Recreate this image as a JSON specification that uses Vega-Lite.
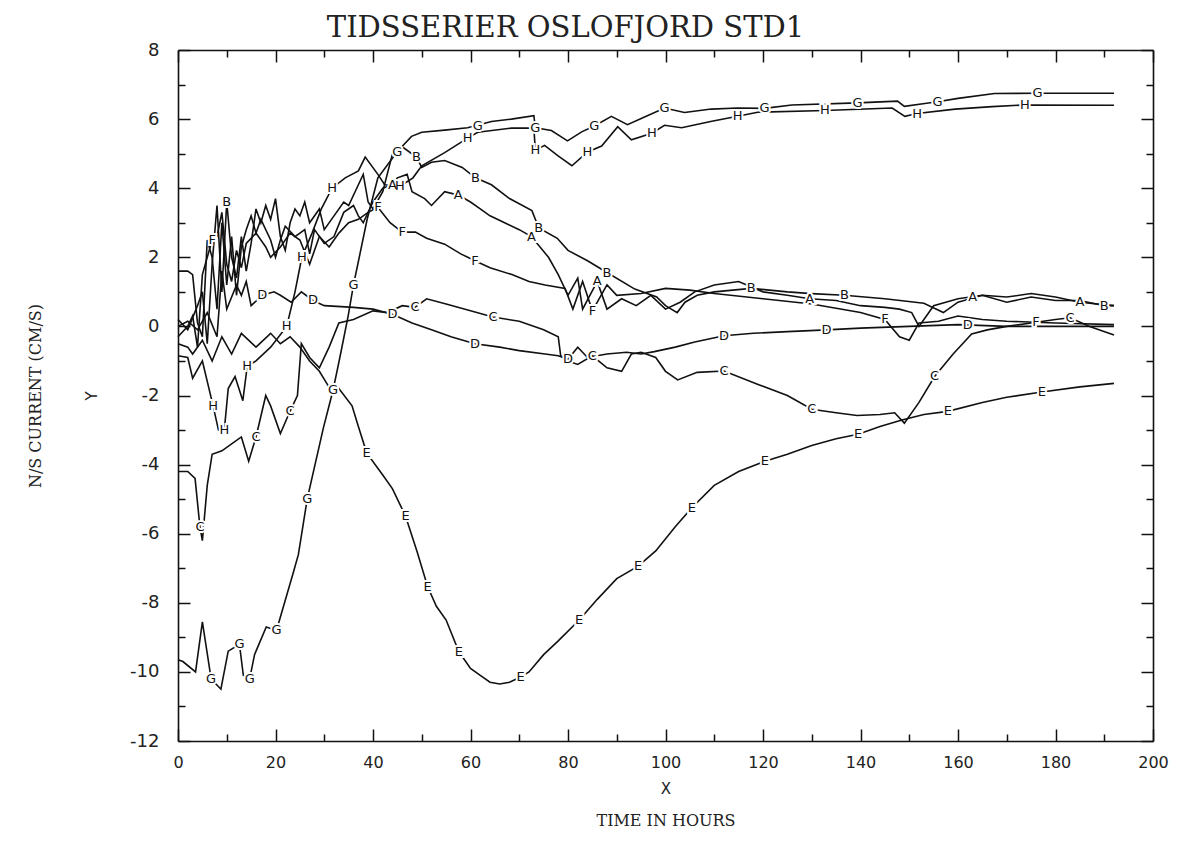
{
"$schema": "https://vega.github.io/schema/vega-lite/v6.json",
"width": 975,
"height": 691,
"autosize": {"type": "none"},
"padding": {"left": 178, "top": 50, "right": 32, "bottom": 112},
"background": "white",
"config": {"view": {"stroke": null}},
"title": {"text": "TIDSSERIER OSLOFJORD STD1", "font": "DejaVu Serif", "fontSize": 29, "fontWeight": "normal", "color": "#222", "dx": -100, "offset": -2},
"datasets": {
"series": [
{"s":"A","t":0,"v":1.6},{"s":"A","t":2,"v":1.6},{"s":"A","t":3,"v":1.5},{"s":"A","t":4,"v":0.1},{"s":"A","t":5,"v":-0.3},{"s":"A","t":6,"v":2.5},{"s":"A","t":7,"v":2.0},{"s":"A","t":8,"v":0.5},{"s":"A","t":9,"v":3.0},{"s":"A","t":10,"v":1.2},{"s":"A","t":11,"v":2.6},{"s":"A","t":12,"v":0.9},{"s":"A","t":13,"v":2.3},{"s":"A","t":14,"v":2.8},{"s":"A","t":15,"v":3.2},{"s":"A","t":16,"v":2.7},{"s":"A","t":17,"v":3.1},{"s":"A","t":19,"v":2.5},{"s":"A","t":20,"v":2.0},{"s":"A","t":21,"v":2.5},{"s":"A","t":22,"v":2.9},{"s":"A","t":24,"v":2.6},{"s":"A","t":26,"v":2.8},{"s":"A","t":27,"v":2.1},{"s":"A","t":28,"v":2.8},{"s":"A","t":30,"v":2.4},{"s":"A","t":32,"v":2.6},{"s":"A","t":34,"v":3.3},{"s":"A","t":36,"v":3.5},{"s":"A","t":37,"v":3.2},{"s":"A","t":38,"v":3.0},{"s":"A","t":40,"v":3.6},{"s":"A","t":42,"v":4.0},{"s":"A","t":44,"v":4.1},{"s":"A","t":45,"v":4.3},{"s":"A","t":47,"v":4.4},{"s":"A","t":48,"v":3.9},{"s":"A","t":50.6,"v":3.7},{"s":"A","t":52,"v":3.5},{"s":"A","t":54.7,"v":3.9},{"s":"A","t":57.5,"v":3.8},{"s":"A","t":60,"v":3.6},{"s":"A","t":62,"v":3.4},{"s":"A","t":64,"v":3.2},{"s":"A","t":67,"v":3.0},{"s":"A","t":70,"v":2.8},{"s":"A","t":72.5,"v":2.6},{"s":"A","t":76,"v":2.0},{"s":"A","t":78,"v":1.5},{"s":"A","t":80,"v":0.9},{"s":"A","t":82,"v":1.4},{"s":"A","t":83,"v":0.5},{"s":"A","t":86,"v":1.3},{"s":"A","t":88,"v":0.5},{"s":"A","t":91,"v":0.8},{"s":"A","t":94,"v":0.6},{"s":"A","t":97,"v":0.9},{"s":"A","t":100,"v":0.5},{"s":"A","t":103,"v":0.7},{"s":"A","t":106,"v":1.0},{"s":"A","t":110,"v":1.2},{"s":"A","t":115,"v":1.3},{"s":"A","t":120,"v":1.0},{"s":"A","t":125,"v":0.9},{"s":"A","t":129.6,"v":0.8},{"s":"A","t":135,"v":0.75},{"s":"A","t":140,"v":0.6},{"s":"A","t":145,"v":0.55},{"s":"A","t":148,"v":0.5},{"s":"A","t":150.5,"v":0.4},{"s":"A","t":152,"v":0.0},{"s":"A","t":155,"v":0.6},{"s":"A","t":160,"v":0.8},{"s":"A","t":165,"v":0.9},{"s":"A","t":170,"v":0.85},{"s":"A","t":175,"v":0.95},{"s":"A","t":180,"v":0.85},{"s":"A","t":185,"v":0.7},{"s":"A","t":192,"v":0.6},
{"s":"B","t":0,"v":0.2},{"s":"B","t":2,"v":-0.1},{"s":"B","t":4,"v":0.6},{"s":"B","t":5,"v":1.0},{"s":"B","t":6,"v":-0.5},{"s":"B","t":7,"v":1.8},{"s":"B","t":8,"v":3.5},{"s":"B","t":9,"v":1.0},{"s":"B","t":10,"v":3.6},{"s":"B","t":11,"v":2.0},{"s":"B","t":12,"v":1.4},{"s":"B","t":13,"v":2.6},{"s":"B","t":14,"v":1.6},{"s":"B","t":15,"v":2.4},{"s":"B","t":16,"v":3.4},{"s":"B","t":17,"v":3.0},{"s":"B","t":18,"v":3.5},{"s":"B","t":19,"v":3.1},{"s":"B","t":20,"v":3.7},{"s":"B","t":21,"v":2.6},{"s":"B","t":22,"v":2.2},{"s":"B","t":23,"v":3.0},{"s":"B","t":24,"v":3.4},{"s":"B","t":25,"v":3.2},{"s":"B","t":26,"v":3.6},{"s":"B","t":27,"v":3.0},{"s":"B","t":29,"v":3.4},{"s":"B","t":30,"v":2.8},{"s":"B","t":32,"v":3.2},{"s":"B","t":34,"v":3.6},{"s":"B","t":35,"v":3.5},{"s":"B","t":37,"v":4.1},{"s":"B","t":38,"v":4.4},{"s":"B","t":39,"v":3.6},{"s":"B","t":40,"v":3.4},{"s":"B","t":42,"v":3.9},{"s":"B","t":44,"v":5.0},{"s":"B","t":46,"v":5.2},{"s":"B","t":48.9,"v":4.9},{"s":"B","t":50,"v":4.6},{"s":"B","t":52,"v":4.75},{"s":"B","t":54.7,"v":4.8},{"s":"B","t":58.3,"v":4.6},{"s":"B","t":61,"v":4.3},{"s":"B","t":64.3,"v":4.1},{"s":"B","t":68,"v":3.7},{"s":"B","t":72.6,"v":3.35},{"s":"B","t":74,"v":2.85},{"s":"B","t":77.8,"v":2.55},{"s":"B","t":80,"v":2.2},{"s":"B","t":84,"v":1.9},{"s":"B","t":88,"v":1.56},{"s":"B","t":93.7,"v":1.08},{"s":"B","t":98.2,"v":0.85},{"s":"B","t":100,"v":0.6},{"s":"B","t":102.4,"v":0.4},{"s":"B","t":104,"v":0.7},{"s":"B","t":106.5,"v":0.9},{"s":"B","t":110,"v":1.0},{"s":"B","t":117.6,"v":1.1},{"s":"B","t":125,"v":1.0},{"s":"B","t":130,"v":0.95},{"s":"B","t":136.7,"v":0.9},{"s":"B","t":145,"v":0.8},{"s":"B","t":153,"v":0.67},{"s":"B","t":157,"v":0.4},{"s":"B","t":160,"v":0.7},{"s":"B","t":165,"v":0.9},{"s":"B","t":170,"v":0.7},{"s":"B","t":175,"v":0.85},{"s":"B","t":180,"v":0.75},{"s":"B","t":185,"v":0.75},{"s":"B","t":190,"v":0.6},{"s":"B","t":192,"v":0.6},
{"s":"C","t":0,"v":-4.2},{"s":"C","t":2,"v":-4.2},{"s":"C","t":3.5,"v":-4.4},{"s":"C","t":4.5,"v":-5.8},{"s":"C","t":5,"v":-6.2},{"s":"C","t":6,"v":-4.6},{"s":"C","t":7,"v":-3.7},{"s":"C","t":9,"v":-3.6},{"s":"C","t":11,"v":-3.4},{"s":"C","t":13,"v":-3.2},{"s":"C","t":14.5,"v":-3.9},{"s":"C","t":16,"v":-3.2},{"s":"C","t":18,"v":-2.0},{"s":"C","t":19,"v":-2.3},{"s":"C","t":21,"v":-3.1},{"s":"C","t":23,"v":-2.45},{"s":"C","t":24.5,"v":-2.0},{"s":"C","t":25.3,"v":-0.5},{"s":"C","t":27,"v":-0.9},{"s":"C","t":29,"v":-1.2},{"s":"C","t":31,"v":-0.6},{"s":"C","t":33,"v":0.1},{"s":"C","t":36,"v":0.2},{"s":"C","t":40,"v":0.45},{"s":"C","t":43,"v":0.4},{"s":"C","t":46,"v":0.6},{"s":"C","t":48.6,"v":0.55},{"s":"C","t":51,"v":0.8},{"s":"C","t":55,"v":0.65},{"s":"C","t":60,"v":0.45},{"s":"C","t":64.6,"v":0.27},{"s":"C","t":70,"v":0.15},{"s":"C","t":75,"v":-0.1},{"s":"C","t":78,"v":-0.3},{"s":"C","t":78.5,"v":-0.85},{"s":"C","t":80,"v":-1.0},{"s":"C","t":82,"v":-1.1},{"s":"C","t":85,"v":-0.85},{"s":"C","t":88,"v":-1.2},{"s":"C","t":91,"v":-1.3},{"s":"C","t":93,"v":-0.8},{"s":"C","t":95,"v":-0.75},{"s":"C","t":98,"v":-0.9},{"s":"C","t":100,"v":-1.3},{"s":"C","t":102.5,"v":-1.55},{"s":"C","t":106.5,"v":-1.33},{"s":"C","t":112,"v":-1.29},{"s":"C","t":119,"v":-1.68},{"s":"C","t":125,"v":-2.0},{"s":"C","t":130,"v":-2.4},{"s":"C","t":135,"v":-2.5},{"s":"C","t":139.3,"v":-2.58},{"s":"C","t":144,"v":-2.55},{"s":"C","t":147,"v":-2.5},{"s":"C","t":149,"v":-2.8},{"s":"C","t":152,"v":-2.2},{"s":"C","t":155.2,"v":-1.45},{"s":"C","t":159,"v":-0.8},{"s":"C","t":162.8,"v":-0.22},{"s":"C","t":166,"v":-0.1},{"s":"C","t":170,"v":0.0},{"s":"C","t":175,"v":0.1},{"s":"C","t":180,"v":0.2},{"s":"C","t":183,"v":0.25},{"s":"C","t":187,"v":0.0},{"s":"C","t":192,"v":-0.25},
{"s":"D","t":0,"v":0.0},{"s":"D","t":2,"v":0.15},{"s":"D","t":4,"v":-0.1},{"s":"D","t":6,"v":0.4},{"s":"D","t":8,"v":-0.3},{"s":"D","t":9,"v":1.6},{"s":"D","t":10,"v":0.5},{"s":"D","t":12,"v":1.2},{"s":"D","t":13,"v":0.9},{"s":"D","t":14,"v":1.3},{"s":"D","t":15,"v":0.6},{"s":"D","t":17.3,"v":0.9},{"s":"D","t":19.7,"v":1.0},{"s":"D","t":21,"v":0.9},{"s":"D","t":23.2,"v":0.7},{"s":"D","t":25.3,"v":1.0},{"s":"D","t":27.7,"v":0.75},{"s":"D","t":30,"v":0.6},{"s":"D","t":36,"v":0.55},{"s":"D","t":40,"v":0.5},{"s":"D","t":44,"v":0.35},{"s":"D","t":48,"v":0.1},{"s":"D","t":52,"v":-0.1},{"s":"D","t":56,"v":-0.3},{"s":"D","t":60.9,"v":-0.5},{"s":"D","t":66,"v":-0.6},{"s":"D","t":70,"v":-0.7},{"s":"D","t":75.3,"v":-0.8},{"s":"D","t":78,"v":-0.85},{"s":"D","t":80,"v":-0.95},{"s":"D","t":82,"v":-0.6},{"s":"D","t":84,"v":-0.9},{"s":"D","t":88,"v":-0.8},{"s":"D","t":92,"v":-0.75},{"s":"D","t":95,"v":-0.8},{"s":"D","t":97.7,"v":-0.73},{"s":"D","t":102,"v":-0.6},{"s":"D","t":106,"v":-0.45},{"s":"D","t":112,"v":-0.27},{"s":"D","t":118,"v":-0.2},{"s":"D","t":125,"v":-0.15},{"s":"D","t":133,"v":-0.1},{"s":"D","t":140,"v":-0.05},{"s":"D","t":150,"v":0.0},{"s":"D","t":160,"v":0.05},{"s":"D","t":170,"v":0.0},{"s":"D","t":180,"v":0.0},{"s":"D","t":192,"v":0.0},
{"s":"E","t":0,"v":-0.5},{"s":"E","t":2,"v":-0.6},{"s":"E","t":3,"v":-0.8},{"s":"E","t":5,"v":-0.4},{"s":"E","t":7,"v":-1.0},{"s":"E","t":9,"v":-0.3},{"s":"E","t":11,"v":-0.8},{"s":"E","t":13,"v":-0.2},{"s":"E","t":16,"v":-0.6},{"s":"E","t":19,"v":-0.2},{"s":"E","t":21,"v":-0.5},{"s":"E","t":23,"v":-0.3},{"s":"E","t":25,"v":-0.6},{"s":"E","t":27,"v":-1.0},{"s":"E","t":29,"v":-1.3},{"s":"E","t":31.6,"v":-1.9},{"s":"E","t":33,"v":-1.8},{"s":"E","t":35.7,"v":-2.3},{"s":"E","t":37,"v":-2.9},{"s":"E","t":38.7,"v":-3.66},{"s":"E","t":42,"v":-4.3},{"s":"E","t":44,"v":-4.7},{"s":"E","t":46.7,"v":-5.5},{"s":"E","t":49,"v":-6.5},{"s":"E","t":51.2,"v":-7.53},{"s":"E","t":53,"v":-8.1},{"s":"E","t":55,"v":-8.5},{"s":"E","t":57.6,"v":-9.41},{"s":"E","t":60,"v":-9.9},{"s":"E","t":62,"v":-10.1},{"s":"E","t":64,"v":-10.3},{"s":"E","t":66,"v":-10.35},{"s":"E","t":68,"v":-10.3},{"s":"E","t":70.3,"v":-10.15},{"s":"E","t":72,"v":-10.0},{"s":"E","t":75,"v":-9.5},{"s":"E","t":78,"v":-9.1},{"s":"E","t":82.3,"v":-8.5},{"s":"E","t":86,"v":-7.9},{"s":"E","t":90,"v":-7.3},{"s":"E","t":94.4,"v":-6.94},{"s":"E","t":98,"v":-6.5},{"s":"E","t":102,"v":-5.8},{"s":"E","t":105.4,"v":-5.25},{"s":"E","t":110,"v":-4.6},{"s":"E","t":115,"v":-4.2},{"s":"E","t":120.4,"v":-3.9},{"s":"E","t":125,"v":-3.7},{"s":"E","t":130,"v":-3.45},{"s":"E","t":135,"v":-3.25},{"s":"E","t":139.5,"v":-3.12},{"s":"E","t":144,"v":-2.9},{"s":"E","t":148.5,"v":-2.71},{"s":"E","t":153,"v":-2.55},{"s":"E","t":157.9,"v":-2.46},{"s":"E","t":165,"v":-2.2},{"s":"E","t":170,"v":-2.05},{"s":"E","t":177.2,"v":-1.9},{"s":"E","t":185,"v":-1.75},{"s":"E","t":192,"v":-1.65},
{"s":"F","t":0,"v":-0.3},{"s":"F","t":2,"v":0.0},{"s":"F","t":3,"v":0.3},{"s":"F","t":4,"v":-0.6},{"s":"F","t":5,"v":1.5},{"s":"F","t":6,"v":2.0},{"s":"F","t":7,"v":2.5},{"s":"F","t":8,"v":2.6},{"s":"F","t":9,"v":3.3},{"s":"F","t":10,"v":1.8},{"s":"F","t":11,"v":1.3},{"s":"F","t":12,"v":2.2},{"s":"F","t":13,"v":1.7},{"s":"F","t":14,"v":2.4},{"s":"F","t":16,"v":2.7},{"s":"F","t":18,"v":2.3},{"s":"F","t":19,"v":2.0},{"s":"F","t":21,"v":2.3},{"s":"F","t":23,"v":2.7},{"s":"F","t":25,"v":2.5},{"s":"F","t":27,"v":1.8},{"s":"F","t":29,"v":2.6},{"s":"F","t":31,"v":2.3},{"s":"F","t":33,"v":2.7},{"s":"F","t":35,"v":3.0},{"s":"F","t":37,"v":3.1},{"s":"F","t":39,"v":3.3},{"s":"F","t":41,"v":3.45},{"s":"F","t":43.5,"v":3.0},{"s":"F","t":46,"v":2.73},{"s":"F","t":48.7,"v":2.73},{"s":"F","t":51,"v":2.55},{"s":"F","t":54.7,"v":2.38},{"s":"F","t":58,"v":2.1},{"s":"F","t":60.9,"v":1.9},{"s":"F","t":64,"v":1.7},{"s":"F","t":68.5,"v":1.5},{"s":"F","t":72,"v":1.3},{"s":"F","t":75.3,"v":1.2},{"s":"F","t":79.4,"v":1.1},{"s":"F","t":81,"v":0.5},{"s":"F","t":83,"v":1.3},{"s":"F","t":85,"v":0.45},{"s":"F","t":88,"v":1.2},{"s":"F","t":90,"v":0.9},{"s":"F","t":95,"v":0.95},{"s":"F","t":100,"v":1.1},{"s":"F","t":105,"v":1.05},{"s":"F","t":110,"v":0.95},{"s":"F","t":120,"v":0.8},{"s":"F","t":130,"v":0.65},{"s":"F","t":140,"v":0.4},{"s":"F","t":145,"v":0.2},{"s":"F","t":148,"v":-0.3},{"s":"F","t":150,"v":-0.4},{"s":"F","t":152,"v":0.1},{"s":"F","t":156,"v":0.15},{"s":"F","t":160,"v":0.3},{"s":"F","t":165,"v":0.2},{"s":"F","t":170,"v":0.15},{"s":"F","t":180,"v":0.1},{"s":"F","t":192,"v":0.05},
{"s":"G","t":0,"v":-9.65},{"s":"G","t":1,"v":-9.7},{"s":"G","t":3.6,"v":-10.0},{"s":"G","t":5,"v":-8.55},{"s":"G","t":6.8,"v":-10.2},{"s":"G","t":8.8,"v":-10.5},{"s":"G","t":10.3,"v":-9.4},{"s":"G","t":12.6,"v":-9.2},{"s":"G","t":13.4,"v":-10.1},{"s":"G","t":14.7,"v":-10.2},{"s":"G","t":15.7,"v":-9.5},{"s":"G","t":18.1,"v":-8.7},{"s":"G","t":20.2,"v":-8.8},{"s":"G","t":23.7,"v":-7.1},{"s":"G","t":24.7,"v":-6.6},{"s":"G","t":26.5,"v":-5.0},{"s":"G","t":29.8,"v":-2.95},{"s":"G","t":31.8,"v":-1.85},{"s":"G","t":33.2,"v":-0.9},{"s":"G","t":34.9,"v":0.3},{"s":"G","t":36,"v":1.2},{"s":"G","t":38.8,"v":3.1},{"s":"G","t":41,"v":4.3},{"s":"G","t":45,"v":5.06},{"s":"G","t":47.9,"v":5.5},{"s":"G","t":50,"v":5.62},{"s":"G","t":54.7,"v":5.68},{"s":"G","t":59.4,"v":5.75},{"s":"G","t":64.3,"v":5.93},{"s":"G","t":68.4,"v":6.0},{"s":"G","t":73,"v":6.1},{"s":"G","t":73.3,"v":5.75},{"s":"G","t":76.6,"v":5.67},{"s":"G","t":79.9,"v":5.37},{"s":"G","t":82.8,"v":5.63},{"s":"G","t":85.4,"v":5.8},{"s":"G","t":88.9,"v":6.08},{"s":"G","t":92.2,"v":5.84},{"s":"G","t":95.7,"v":6.06},{"s":"G","t":99.8,"v":6.32},{"s":"G","t":103.9,"v":6.19},{"s":"G","t":109.4,"v":6.29},{"s":"G","t":114.8,"v":6.32},{"s":"G","t":120.3,"v":6.31},{"s":"G","t":125.9,"v":6.41},{"s":"G","t":139.4,"v":6.47},{"s":"G","t":147.6,"v":6.52},{"s":"G","t":149,"v":6.37},{"s":"G","t":153.2,"v":6.45},{"s":"G","t":155.8,"v":6.5},{"s":"G","t":160,"v":6.6},{"s":"G","t":167.5,"v":6.74},{"s":"G","t":176.3,"v":6.75},{"s":"G","t":192,"v":6.75},
{"s":"H","t":0,"v":-0.85},{"s":"H","t":2,"v":-0.9},{"s":"H","t":3,"v":-1.5},{"s":"H","t":5,"v":-1.0},{"s":"H","t":7.2,"v":-2.3},{"s":"H","t":8.3,"v":-3.0},{"s":"H","t":9.5,"v":-3.0},{"s":"H","t":10.3,"v":-1.8},{"s":"H","t":11.7,"v":-1.45},{"s":"H","t":13.3,"v":-2.15},{"s":"H","t":14.2,"v":-1.15},{"s":"H","t":16,"v":-1.0},{"s":"H","t":19,"v":-0.6},{"s":"H","t":22.3,"v":0.0},{"s":"H","t":24,"v":1.0},{"s":"H","t":25.4,"v":2.0},{"s":"H","t":27.5,"v":2.7},{"s":"H","t":29.4,"v":3.4},{"s":"H","t":31.6,"v":4.0},{"s":"H","t":34.3,"v":4.3},{"s":"H","t":37,"v":4.5},{"s":"H","t":38.4,"v":4.9},{"s":"H","t":41,"v":4.4},{"s":"H","t":42.4,"v":4.1},{"s":"H","t":45.5,"v":4.05},{"s":"H","t":48.2,"v":4.3},{"s":"H","t":50,"v":4.65},{"s":"H","t":54.7,"v":5.03},{"s":"H","t":59.4,"v":5.45},{"s":"H","t":61.5,"v":5.62},{"s":"H","t":68.4,"v":5.74},{"s":"H","t":73,"v":5.74},{"s":"H","t":73.3,"v":5.1},{"s":"H","t":75.2,"v":5.24},{"s":"H","t":77.9,"v":4.94},{"s":"H","t":80.8,"v":4.65},{"s":"H","t":84,"v":5.05},{"s":"H","t":86.9,"v":5.22},{"s":"H","t":90.2,"v":5.78},{"s":"H","t":93,"v":5.4},{"s":"H","t":97.2,"v":5.59},{"s":"H","t":99.8,"v":5.82},{"s":"H","t":103.3,"v":5.75},{"s":"H","t":109.5,"v":5.94},{"s":"H","t":114.8,"v":6.08},{"s":"H","t":118.9,"v":6.2},{"s":"H","t":132.7,"v":6.25},{"s":"H","t":146.5,"v":6.32},{"s":"H","t":149.1,"v":6.08},{"s":"H","t":151.6,"v":6.16},{"s":"H","t":159.4,"v":6.29},{"s":"H","t":167,"v":6.36},{"s":"H","t":173.7,"v":6.41},{"s":"H","t":192,"v":6.4}
],
"labels": [
{"s":"A","t":44,"v":4.1},{"s":"A","t":57.5,"v":3.8},{"s":"A","t":72.5,"v":2.6},{"s":"A","t":86,"v":1.3},{"s":"A","t":129.6,"v":0.8},{"s":"A","t":163,"v":0.85},{"s":"A","t":185,"v":0.7},
{"s":"B","t":10,"v":3.6},{"s":"B","t":48.9,"v":4.9},{"s":"B","t":61,"v":4.3},{"s":"B","t":74,"v":2.85},{"s":"B","t":88,"v":1.56},{"s":"B","t":117.6,"v":1.1},{"s":"B","t":136.7,"v":0.9},{"s":"B","t":190,"v":0.6},
{"s":"C","t":4.5,"v":-5.8},{"s":"C","t":16,"v":-3.2},{"s":"C","t":23,"v":-2.45},{"s":"C","t":48.6,"v":0.55},{"s":"C","t":64.6,"v":0.27},{"s":"C","t":85,"v":-0.85},{"s":"C","t":112,"v":-1.29},{"s":"C","t":130,"v":-2.4},{"s":"C","t":155.2,"v":-1.45},{"s":"C","t":183,"v":0.25},
{"s":"D","t":17.3,"v":0.9},{"s":"D","t":27.7,"v":0.75},{"s":"D","t":44,"v":0.35},{"s":"D","t":60.9,"v":-0.5},{"s":"D","t":80,"v":-0.95},{"s":"D","t":112,"v":-0.27},{"s":"D","t":133,"v":-0.1},{"s":"D","t":162,"v":0.04},
{"s":"E","t":38.7,"v":-3.66},{"s":"E","t":46.7,"v":-5.5},{"s":"E","t":51.2,"v":-7.53},{"s":"E","t":57.6,"v":-9.41},{"s":"E","t":70.3,"v":-10.15},{"s":"E","t":82.3,"v":-8.5},{"s":"E","t":94.4,"v":-6.94},{"s":"E","t":105.4,"v":-5.25},{"s":"E","t":120.4,"v":-3.9},{"s":"E","t":139.5,"v":-3.12},{"s":"E","t":157.9,"v":-2.46},{"s":"E","t":177.2,"v":-1.9},
{"s":"F","t":7,"v":2.5},{"s":"F","t":41,"v":3.45},{"s":"F","t":46,"v":2.73},{"s":"F","t":60.9,"v":1.9},{"s":"F","t":85,"v":0.45},{"s":"F","t":145,"v":0.2},{"s":"F","t":176,"v":0.12},
{"s":"G","t":6.8,"v":-10.2},{"s":"G","t":12.6,"v":-9.2},{"s":"G","t":14.7,"v":-10.2},{"s":"G","t":20.2,"v":-8.8},{"s":"G","t":26.5,"v":-5.0},{"s":"G","t":31.8,"v":-1.85},{"s":"G","t":36,"v":1.2},{"s":"G","t":45,"v":5.06},{"s":"G","t":61.5,"v":5.8},{"s":"G","t":73.3,"v":5.75},{"s":"G","t":85.4,"v":5.8},{"s":"G","t":99.8,"v":6.32},{"s":"G","t":120.3,"v":6.31},{"s":"G","t":139.4,"v":6.47},{"s":"G","t":155.8,"v":6.5},{"s":"G","t":176.3,"v":6.75},
{"s":"H","t":7.2,"v":-2.3},{"s":"H","t":9.5,"v":-3.0},{"s":"H","t":14.2,"v":-1.15},{"s":"H","t":22.3,"v":0.0},{"s":"H","t":25.4,"v":2.0},{"s":"H","t":31.6,"v":4.0},{"s":"H","t":45.5,"v":4.05},{"s":"H","t":59.4,"v":5.45},{"s":"H","t":73.3,"v":5.1},{"s":"H","t":84,"v":5.05},{"s":"H","t":97.2,"v":5.59},{"s":"H","t":114.8,"v":6.08},{"s":"H","t":132.7,"v":6.25},{"s":"H","t":151.6,"v":6.16},{"s":"H","t":173.7,"v":6.41}
]
},
"resolve": {"axis": {"x": "independent", "y": "independent"}},
"layer": [
{
"data": {"name": "series"},
"mark": {"type": "line", "stroke": "#111", "strokeWidth": 1.6, "interpolate": "linear"},
"encoding": {
"x": {"field": "t", "type": "quantitative", "scale": {"domain": [0, 200], "nice": false, "zero": false},
"axis": {"orient": "bottom", "values": [0,10,20,30,40,50,60,70,80,90,100,110,120,130,140,150,160,170,180,190,200],
"tickSize": {"condition": {"test": "datum.value % 20 === 0", "value": -12}, "value": -7},
"labelExpr": "datum.value % 20 === 0 ? '' + datum.value : ''",
"labelFont": "DejaVu Sans", "labelFontSize": 16, "labelColor": "#222", "labelPadding": 25, "labelFlush": false, "labelOverlap": false,
"grid": false, "domainColor": "#111", "domainWidth": 1.6, "tickColor": "#111", "tickWidth": 1.5,
"title": "X", "titleFont": "DejaVu Sans", "titleFontSize": 15, "titleFontWeight": "normal", "titleColor": "#222", "titlePadding": 6}},
"y": {"field": "v", "type": "quantitative", "scale": {"domain": [-12, 8], "nice": false, "zero": false},
"axis": {"orient": "left", "values": [-12,-11,-10,-9,-8,-7,-6,-5,-4,-3,-2,-1,0,1,2,3,4,5,6,7,8],
"tickSize": {"condition": {"test": "datum.value % 2 === 0", "value": -12}, "value": -7},
"labelExpr": "datum.value % 2 === 0 ? '' + datum.value : ''",
"labelFont": "DejaVu Sans", "labelFontSize": 18, "labelColor": "#222", "labelPadding": 31, "labelFlush": false, "labelOverlap": false,
"grid": false, "domainColor": "#111", "domainWidth": 1.6, "tickColor": "#111", "tickWidth": 1.5,
"title": "Y", "titleFont": "DejaVu Sans", "titleFontSize": 15, "titleFontWeight": "normal", "titleColor": "#222", "titlePadding": 30}},
"detail": {"field": "s", "type": "nominal"}
}
},
{
"data": {"name": "labels"},
"mark": {"type": "text", "font": "DejaVu Sans", "fontSize": 13, "fill": "white", "stroke": "white", "strokeWidth": 4, "align": "center", "baseline": "middle"},
"encoding": {
"x": {"field": "t", "type": "quantitative", "axis": null},
"y": {"field": "v", "type": "quantitative", "axis": null},
"text": {"field": "s"}
}
},
{
"data": {"name": "labels"},
"mark": {"type": "text", "font": "DejaVu Sans", "fontSize": 13, "fill": "#111", "align": "center", "baseline": "middle"},
"encoding": {
"x": {"field": "t", "type": "quantitative", "axis": null},
"y": {"field": "v", "type": "quantitative", "axis": null},
"text": {"field": "s"}
}
},
{
"data": {"name": "series"},
"mark": {"type": "point", "opacity": 0},
"encoding": {
"x": {"field": "t", "type": "quantitative",
"axis": {"orient": "top", "values": [0,10,20,30,40,50,60,70,80,90,100,110,120,130,140,150,160,170,180,190,200],
"tickSize": {"condition": {"test": "datum.value % 20 === 0", "value": -12}, "value": -7},
"labels": false, "grid": false, "domainColor": "#111", "domainWidth": 1.6, "tickColor": "#111", "tickWidth": 1.5, "title": null}},
"y": {"field": "v", "type": "quantitative",
"axis": {"orient": "right", "values": [-12,-11,-10,-9,-8,-7,-6,-5,-4,-3,-2,-1,0,1,2,3,4,5,6,7,8],
"tickSize": {"condition": {"test": "datum.value % 2 === 0", "value": -12}, "value": -7},
"labels": false, "grid": false, "domainColor": "#111", "domainWidth": 1.6, "tickColor": "#111", "tickWidth": 1.5, "title": null}}
}
},
{
"data": {"name": "series"},
"mark": {"type": "point", "opacity": 0},
"encoding": {
"x": {"field": "t", "type": "quantitative",
"axis": {"orient": "bottom", "ticks": false, "labels": false, "domain": false, "grid": false,
"title": "TIME IN HOURS", "titleFont": "DejaVu Serif", "titleFontSize": 16, "titleFontWeight": "normal", "titleColor": "#222", "titlePadding": 71}},
"y": {"field": "v", "type": "quantitative",
"axis": {"orient": "left", "ticks": false, "labels": false, "domain": false, "grid": false,
"title": "N/S CURRENT (CM/S)", "titleFont": "DejaVu Serif", "titleFontSize": 16, "titleFontWeight": "normal", "titleColor": "#222", "titlePadding": 135}}
}
}
]
}
